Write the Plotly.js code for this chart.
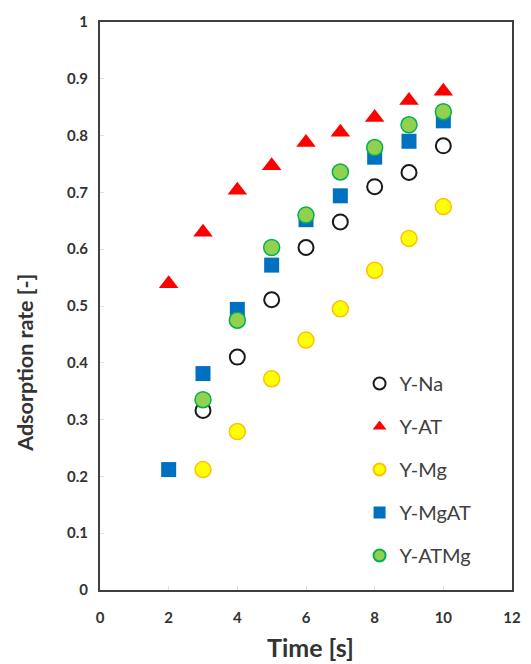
<!DOCTYPE html>
<html><head><meta charset="utf-8">
<script src="https://cdn.plot.ly/plotly-3.0.1.min.js"></script>
<style>html,body{margin:0;padding:0;background:#fff;}#chart{width:531px;height:664px;}</style>
</head><body><div id="chart"></div>
<script>
const xNa = [3,4,5,6,7,8,9,10];
const yNa = [0.316,0.410,0.511,0.603,0.648,0.710,0.735,0.782];
const xAT = [2,3,4,5,6,7,8,9,10];
const yAT = [0.539,0.630,0.704,0.747,0.788,0.806,0.832,0.862,0.878];
const xMg = [3,4,5,6,7,8,9,10];
const yMg = [0.212,0.279,0.372,0.440,0.495,0.563,0.619,0.675];
const xMgAT = [2,3,4,5,6,7,8,9,10];
const yMgAT = [0.212,0.381,0.494,0.572,0.652,0.694,0.762,0.790,0.826];
const xATMg = [3,4,5,6,7,8,9,10];
const yATMg = [0.335,0.475,0.603,0.660,0.736,0.779,0.819,0.842];
const names = ["Y-Na","Y-AT","Y-Mg","Y-MgAT","Y-ATMg"];
const xTicks = [0,2,4,6,8,10,12];
const yTicks = [0,0.1,0.2,0.3,0.4,0.5,0.6,0.7,0.8,0.9,1];
const yTickText = ["0","0.1","0.2","0.3","0.4","0.5","0.6","0.7","0.8","0.9","1"];
const xTitle = "Time [s]";
const yTitle = "Adsorption rate [-]";

function tr(x,y,name,marker,g){
  return {x:x,y:y,name:name,type:'scatter',mode:'markers',marker:marker,legendgroup:g,cliponaxis:false};
}
const data = [
  tr(xNa,yNa,names[0],{symbol:'circle',size:15,color:'#ffffff',line:{color:'#1a1a1a',width:2}},'a'),
  tr(xAT,yAT,names[1],{symbol:'triangle-up',size:17,color:'#ff0000',line:{width:0}},'b'),
  tr(xMg,yMg,names[2],{symbol:'circle',size:16,color:'#ffff00',line:{color:'#ffc000',width:1.5}},'c'),
  tr(xMgAT,yMgAT,names[3],{symbol:'square',size:15,color:'#0070c0',line:{width:0}},'d'),
  tr(xATMg,yATMg,names[4],{symbol:'circle',size:16,color:'#92d050',line:{color:'#00b050',width:1.5}},'e')
];
const FAM = 'Lato, "Open Sans", sans-serif';
const tickFont = {family:FAM,size:15,color:'#333333',weight:'bold'};
const layout = {
  width:531,height:664,
  margin:{l:100,r:19,t:22,b:74},
  paper_bgcolor:'#fff',plot_bgcolor:'#fff',
  font:{family:FAM,color:'#404040'},
  showlegend:true,
  legend:{x:0.63,y:0.398,xanchor:'left',yanchor:'top',bgcolor:'rgba(0,0,0,0)',
    font:{family:FAM,size:20,color:'#404040'},itemsizing:'constant',
    traceorder:'grouped',tracegroupgap:14,itemwidth:30},
  xaxis:{range:[0,12],tickvals:xTicks,ticktext:xTicks.map(String),showgrid:false,zeroline:false,
    showline:true,mirror:true,linecolor:'#404040',linewidth:2,
    ticks:'inside',ticklen:4,tickcolor:'#e0e0e0',tickfont:tickFont,ticklabelstandoff:13},
  yaxis:{range:[0,1],tickvals:yTicks,ticktext:yTickText,showgrid:false,zeroline:false,
    showline:true,mirror:true,linecolor:'#404040',linewidth:2,
    ticks:'inside',ticklen:4,tickcolor:'#e0e0e0',tickfont:tickFont,ticklabelstandoff:7},
  annotations:[
    {text:xTitle,xref:'paper',yref:'paper',x:0.51,y:-0.131,xanchor:'center',yanchor:'bottom',showarrow:false,
     font:{family:FAM,size:25,color:'#333333',weight:'bold'}},
    {text:yTitle,xref:'paper',yref:'paper',x:-0.182,y:0.40,xanchor:'center',yanchor:'middle',textangle:-90,showarrow:false,
     font:{family:FAM,size:21.5,color:'#333333',weight:'bold'}}
  ]
};
Plotly.newPlot('chart',data,layout,{displayModeBar:false,staticPlot:true});
</script></body></html>
